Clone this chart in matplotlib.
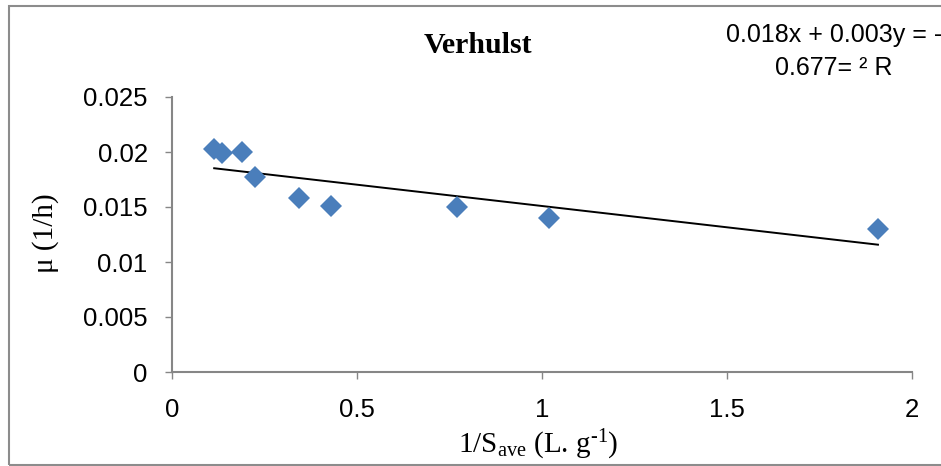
import matplotlib
matplotlib.use("Agg")
import matplotlib.pyplot as plt
import numpy as np
from matplotlib.patches import Rectangle

# values
inv_s = [0.114, 0.135, 0.189, 0.224, 0.343, 0.430, 0.770, 1.020, 1.908]
mu = [0.0203, 0.0199, 0.0200, 0.0177, 0.0158, 0.0151, 0.0150, 0.0140, 0.0130]
x_ticks = [0, 0.5, 1, 1.5, 2]
x_tick_labels = ["0", "0.5", "1", "1.5", "2"]
y_ticks = [0, 0.005, 0.01, 0.015, 0.02, 0.025]
y_tick_labels = ["0", "0.005", "0.01", "0.015", "0.02", "0.025"]
title = "Verhulst"
eq_line1 = "0.018x + 0.003y = -"
eq_line2 = "0.677= \u00b2 R"

plt.rcParams['mathtext.fontset'] = 'custom'
plt.rcParams['mathtext.rm'] = 'Liberation Serif'
plt.rcParams['mathtext.it'] = 'Liberation Serif:italic'

W, H = 941, 466
fig = plt.figure(figsize=(W / 100, H / 100), dpi=100)
ax = fig.add_axes([172 / W, 1 - 372 / H, (912 - 172) / W, (372 - 97) / H])

grey = '#868686'
blue = '#4a7ebb'

ax.plot(inv_s, mu, linestyle='none', marker='D', markersize=11,
        color=blue, markeredgewidth=0, zorder=3)

# linear trendline over the data range
k, b = np.polyfit(inv_s, mu, 1)
xs = np.array([min(inv_s), max(inv_s)])
ax.plot(xs, k * xs + b, color='black', lw=1.4, zorder=2)

ax.set_xlim(0, 2)
ax.set_ylim(0, 0.025)
ax.set_xticks(x_ticks)
ax.set_xticklabels(x_tick_labels)
ax.set_yticks(y_ticks)
ax.set_yticklabels(y_tick_labels)
for lab in ax.get_xticklabels() + ax.get_yticklabels():
    lab.set_fontfamily('Liberation Sans')
    lab.set_fontsize(18.5)
ax.tick_params(axis='x', direction='out', length=5, width=1, color=grey, pad=14)
ax.tick_params(axis='y', direction='out', length=5, width=1, color=grey, pad=12.5)

for s in ['top', 'right']:
    ax.spines[s].set_visible(False)
for s in ['left', 'bottom']:
    ax.spines[s].set_color(grey)
    ax.spines[s].set_linewidth(1.5)

fig.text(478 / W, 1 - 53 / H, title, ha='center', va='baseline',
         fontfamily='Liberation Serif', fontweight='bold', fontsize=21.5)
fig.text(538 / W, 1 - 453 / H, r'1/S$_{\mathrm{ave}}$ (L. g$^{\text{-1}}$)',
         ha='center', va='baseline', fontfamily='Liberation Serif', fontsize=21)
fig.text(46 / W, 1 - 233 / H, '\u03bc (1/h)', rotation=90, ha='center', va='center',
         fontfamily='Liberation Serif', fontsize=21)

fig.text(834 / W, 1 - 42 / H, eq_line1, ha='center', va='baseline',
         fontfamily='Liberation Sans', fontsize=18)
fig.text(834 / W, 1 - 75 / H, eq_line2, ha='center', va='baseline',
         fontfamily='Liberation Sans', fontsize=18)

fig.patches.append(Rectangle((9 / W, 1 / H), 1.2, (465 - 6) / H,
                             transform=fig.transFigure, fill=False,
                             edgecolor='#8c8c8c', lw=1.5))

fig.savefig('out.png', dpi=100)
